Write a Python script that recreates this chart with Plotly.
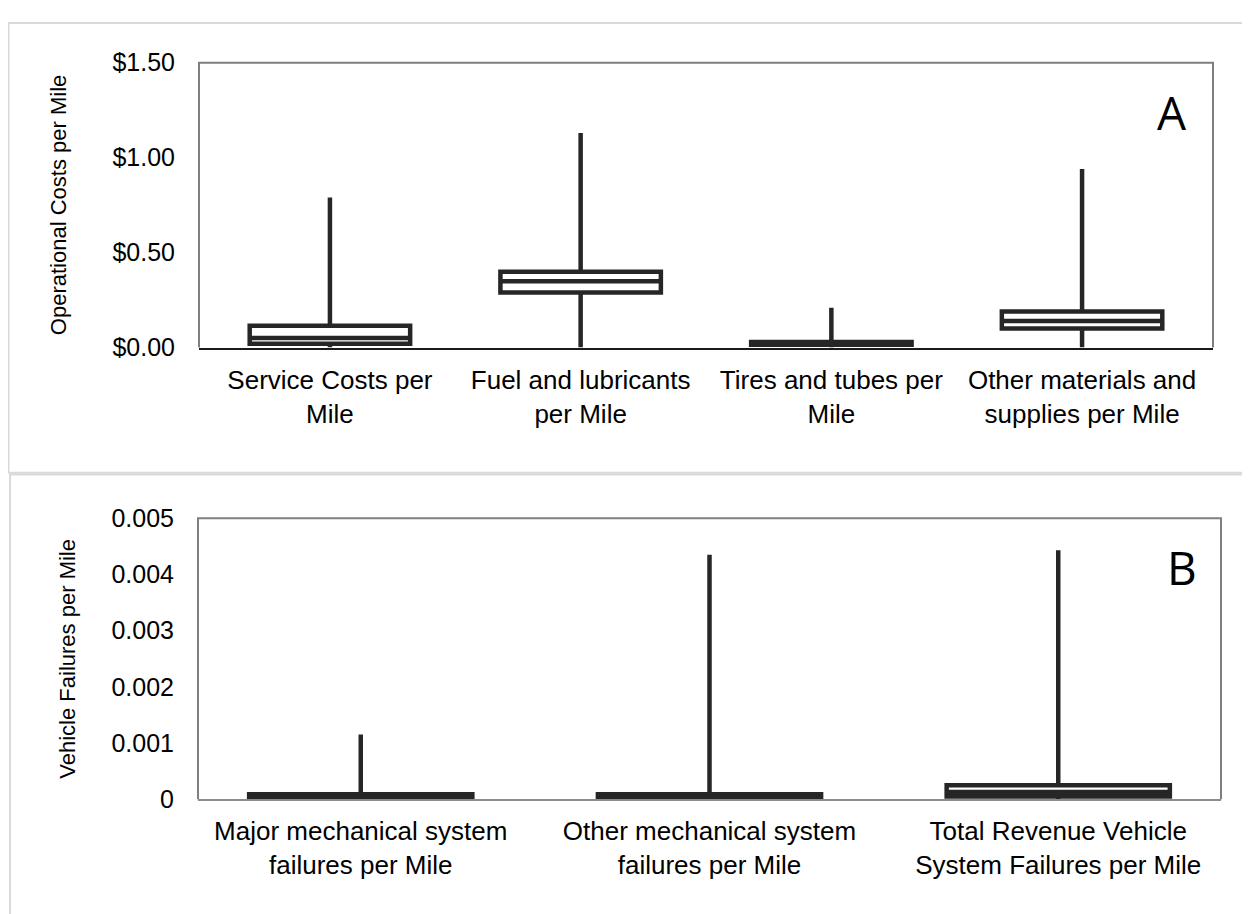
import plotly.graph_objects as go

# Panel A data (dollars per mile)
cats_a = ["Service Costs per<br>Mile", "Fuel and lubricants<br>per Mile",
          "Tires and tubes per<br>Mile", "Other materials and<br>supplies per Mile"]
min_a = [0.0, 0.0, 0.0, 0.0]
q1_a = [0.02, 0.29, 0.015, 0.10]
med_a = [0.05, 0.35, 0.02, 0.14]
q3_a = [0.115, 0.40, 0.03, 0.19]
max_a = [0.79, 1.13, 0.21, 0.94]
ticks_a = [0, 0.5, 1.0, 1.5]
ticklab_a = ["$0.00", "$0.50", "$1.00", "$1.50"]

# Panel B data (failures per mile)
cats_b = ["Major mechanical system<br>failures per Mile",
          "Other mechanical system<br>failures per Mile",
          "Total Revenue Vehicle<br>System Failures per Mile"]
min_b = [0.0, 0.0, 0.0]
q1_b = [0.00001, 0.00001, 0.00005]
med_b = [0.00004, 0.00004, 0.00013]
q3_b = [0.00009, 0.00009, 0.00025]
max_b = [0.00115, 0.00435, 0.00443]
ticks_b = [0, 0.001, 0.002, 0.003, 0.004, 0.005]
ticklab_b = ["0", "0.001", "0.002", "0.003", "0.004", "0.005"]

DARK = "#262626"
FONT = "Liberation Sans, Arial, sans-serif"

# page body has an 8px margin; the figure fills the rest of the 1250x914 window
OFF = 8
W, H = 1250 - OFF, 914 - OFF

def px(x):
    return (x - OFF) / W

def py(y):
    return 1 - (y - OFF) / H

fig = go.Figure()
fig.add_trace(go.Box(
    x=cats_a, q1=q1_a, median=med_a, q3=q3_a, lowerfence=min_a, upperfence=max_a,
    xaxis="x", yaxis="y", width=0.64, whiskerwidth=0,
    line=dict(color=DARK, width=4.5), fillcolor="white", boxpoints=False,
    showlegend=False, hoverinfo="skip"))
fig.add_trace(go.Box(
    x=cats_b, q1=q1_b, median=med_b, q3=q3_b, lowerfence=min_b, upperfence=max_b,
    xaxis="x2", yaxis="y2", width=0.64, whiskerwidth=0,
    line=dict(color=DARK, width=4.5), fillcolor="white", boxpoints=False,
    showlegend=False, hoverinfo="skip"))

xa = [px(199), px(1213)]
ya = [py(344), py(50)]
xb = [px(198), px(1221)]
yb = [py(810), py(520)]

tickfont = dict(family=FONT, size=25, color="black")
catfont = dict(family=FONT, size=26, color="black")

fig.update_layout(
    width=W, height=H, margin=dict(l=0, r=0, t=0, b=0),
    paper_bgcolor="white", plot_bgcolor="white",
    font=dict(family=FONT, color="black"),
    xaxis=dict(domain=xa, anchor="y", type="category", showgrid=False, zeroline=False,
               showline=True, linecolor="#1a1a1a", linewidth=2, ticks="", tickfont=catfont,
               ticklabelstandoff=8, fixedrange=True),
    yaxis=dict(domain=ya, anchor="x", range=[0, 1.5], tickvals=ticks_a, ticktext=ticklab_a,
               showgrid=False, zeroline=False, showline=False, ticks="", tickfont=tickfont,
               ticklabelstandoff=23, fixedrange=True),
    xaxis2=dict(domain=xb, anchor="y2", type="category", showgrid=False, zeroline=False,
                showline=True, linecolor="#8c8c8c", linewidth=2, ticks="", tickfont=catfont,
                ticklabelstandoff=8, fixedrange=True),
    yaxis2=dict(domain=yb, anchor="x2", range=[0, 0.005], tickvals=ticks_b, ticktext=ticklab_b,
                showgrid=False, zeroline=False, showline=False, ticks="", tickfont=tickfont,
                ticklabelstandoff=23, fixedrange=True),
)

shapes = []
# plot frames (left, top, right) in grey
for (x0, x1), (y0, y1) in [(xa, ya), (xb, yb)]:
    shapes.append(dict(type="path", xref="paper", yref="paper",
                       path=f"M {x0},{y0} L {x0},{y1} L {x1},{y1} L {x1},{y0}",
                       line=dict(color="#7f7f7f", width=2)))
# outer panel borders
shapes.append(dict(type="rect", xref="paper", yref="paper",
                   x0=px(8.5), x1=px(1262), y0=py(473), y1=py(9),
                   line=dict(color="#d9d9d9", width=2), fillcolor="rgba(0,0,0,0)"))
shapes.append(dict(type="rect", xref="paper", yref="paper",
                   x0=px(10), x1=px(1262), y0=py(930), y1=py(475),
                   line=dict(color="#d9d9d9", width=2), fillcolor="rgba(0,0,0,0)"))
fig.update_layout(shapes=shapes)

annots = [
    dict(text="Operational Costs per Mile", x=px(58), y=py(197), xref="paper", yref="paper",
         xanchor="center", yanchor="middle",
         textangle=-90, showarrow=False, font=dict(family=FONT, size=22, color="black")),
    dict(text="Vehicle Failures per Mile", x=px(68), y=py(665), xref="paper", yref="paper",
         xanchor="center", yanchor="middle",
         textangle=-90, showarrow=False, font=dict(family=FONT, size=22, color="black")),
    dict(text="A", x=px(1172), y=py(101), xref="paper", yref="paper", showarrow=False,
         xanchor="center", yanchor="middle",
         font=dict(family="Open Sans, sans-serif", size=46, color="black")),
    dict(text="B", x=px(1182), y=py(570), xref="paper", yref="paper", showarrow=False,
         xanchor="center", yanchor="middle",
         font=dict(family="Open Sans, sans-serif", size=46, color="black")),
]
fig.update_layout(annotations=annots)

fig.write_html("out.html", config={"displayModeBar": False})
